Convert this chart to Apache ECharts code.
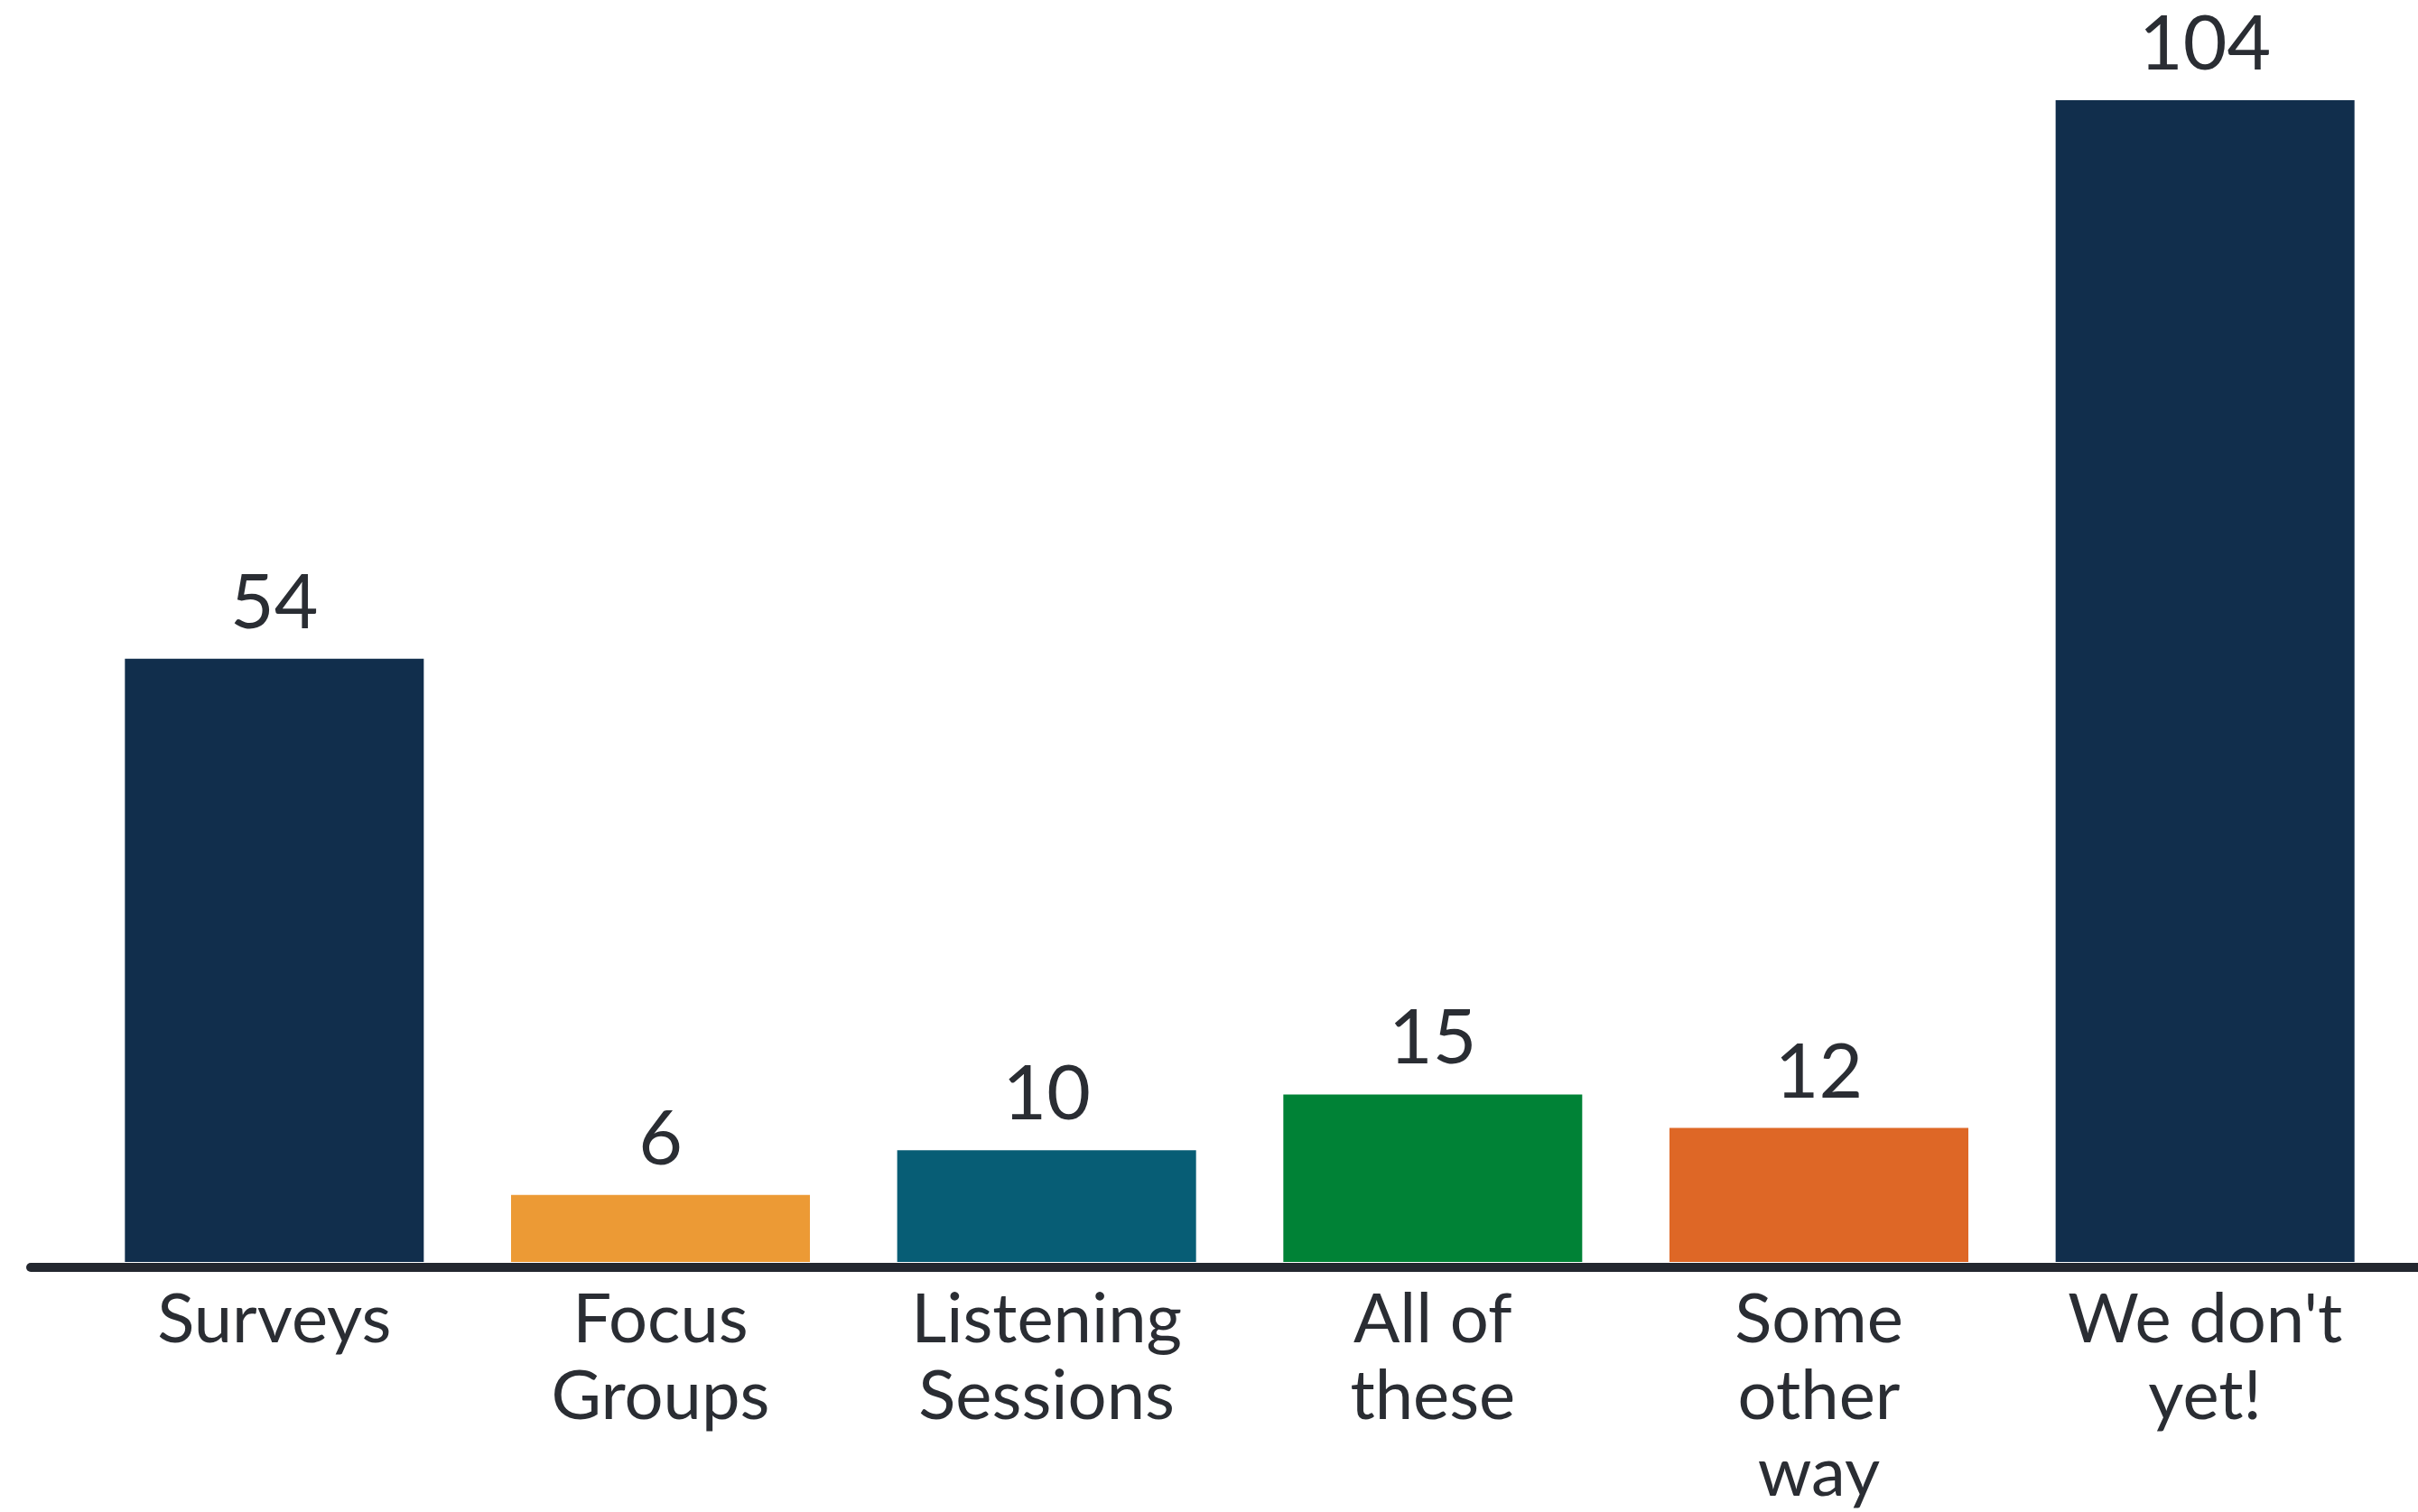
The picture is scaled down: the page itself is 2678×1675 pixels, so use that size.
<!DOCTYPE html>
<html>
<head>
<meta charset="utf-8">
<title>Bar chart</title>
<script src="https://cdn.jsdelivr.net/npm/echarts@6/dist/echarts.min.js"></script>
<style>
  html, body { margin: 0; padding: 0; background: #ffffff; }
  #chart { width: 2678px; height: 1675px; }
</style>
</head>
<body>
<div id="chart"></div>
<script>
// data
const categories = ['Surveys', 'Focus\nGroups', 'Listening\nSessions', 'All of\nthese', 'Some\nother\nway', "We don't\nyet!"];
const counts = [54, 6, 10, 15, 12, 104];
const barColors = ['#112e4c', '#ec9a35', '#075d75', '#008236', '#de6726', '#112e4c'];

const textColor = '#2a2d33';
const fontFamily = 'Lato, "Noto Sans", sans-serif';

const chart = echarts.init(document.getElementById('chart'), null, { renderer: 'canvas' });

const option = {
  backgroundColor: '#ffffff',
  animation: false,
  grid: [
    // bars
    { left: 90, right: 22, top: 111, bottom: 277 },
    // baseline only (spans nearly the full width)
    { left: 34, right: 0, top: 111, bottom: 271 }
  ],
  xAxis: [
    {
      type: 'category',
      gridIndex: 0,
      data: categories,
      axisLine: { show: false },
      axisTick: { show: false },
      axisLabel: {
        color: textColor,
        fontFamily: fontFamily,
        fontSize: 76,
        lineHeight: 85,
        margin: 22,
        interval: 0
      }
    },
    {
      type: 'value',
      gridIndex: 1,
      min: 0,
      max: 1,
      axisLine: { show: true, onZero: false, lineStyle: { color: '#23272f', width: 10 } },
      axisTick: { show: false },
      axisLabel: { show: false },
      splitLine: { show: false }
    }
  ],
  yAxis: [
    {
      type: 'value',
      gridIndex: 0,
      min: 0,
      max: 104,
      show: false,
      splitLine: { show: false }
    },
    {
      type: 'value',
      gridIndex: 1,
      min: 0,
      max: 1,
      show: false,
      splitLine: { show: false }
    }
  ],
  series: [
    {
      type: 'bar',
      xAxisIndex: 0,
      yAxisIndex: 0,
      barWidth: '77.4%',
      data: counts.map((v, i) => ({ value: v, itemStyle: { color: barColors[i] } })),
      label: {
        show: true,
        position: 'top',
        distance: 19,
        color: textColor,
        fontFamily: fontFamily,
        fontSize: 84
      }
    }
  ]
};

chart.setOption(option);
</script>
</body>
</html>
